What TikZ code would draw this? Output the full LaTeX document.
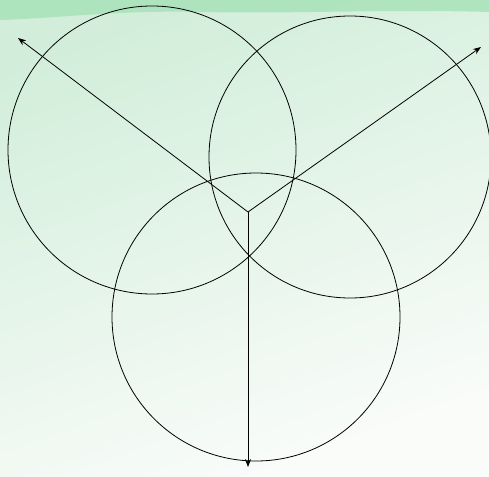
\documentclass[tikz,border=0pt]{standalone}
\usepackage{tikz}
\usetikzlibrary{arrows.meta}

\definecolor{bgtop}{RGB}{210,238,218}
\definecolor{bgbottom}{RGB}{250,252,250}
\definecolor{stripe}{RGB}{165,226,182}

\begin{document}
\begin{tikzpicture}[
    x=1pt, y=-1pt,
    ring/.style={circle, draw=black, line width=0.8pt, minimum size=288pt, inner sep=0pt},
    ray/.style={draw=black, line width=0.8pt, -{Stealth[length=8pt, width=6pt]}},
]
    \useasboundingbox (0, 0) rectangle (489, 476);
    \fill[top color=bgtop, bottom color=bgbottom, shading angle=20] (0, 0) rectangle (489, 476);
    \fill[stripe, opacity=0.8] (0, 0) -- (489, 0) -- (489, 12) .. controls (380, 9) and (300, 14) .. (200, 12)
        .. controls (120, 10) and (60, 18) .. (0, 20) -- cycle;

    \node(left_ring)[ring] at (152, 150) {};
    \node(right_ring)[ring, minimum size=282pt] at (350, 157) {};
    \node(bottom_ring)[ring] at (256, 317) {};

    \coordinate(hub) at (248, 212);
    \coordinate(tip_left) at (18, 38);
    \coordinate(tip_right) at (481, 47);
    \coordinate(tip_down) at (248, 467);

    \draw[ray] (hub) -- (tip_left);
    \draw[ray] (hub) -- (tip_right);
    \draw[ray] (hub) -- (tip_down);
\end{tikzpicture}
\end{document}
